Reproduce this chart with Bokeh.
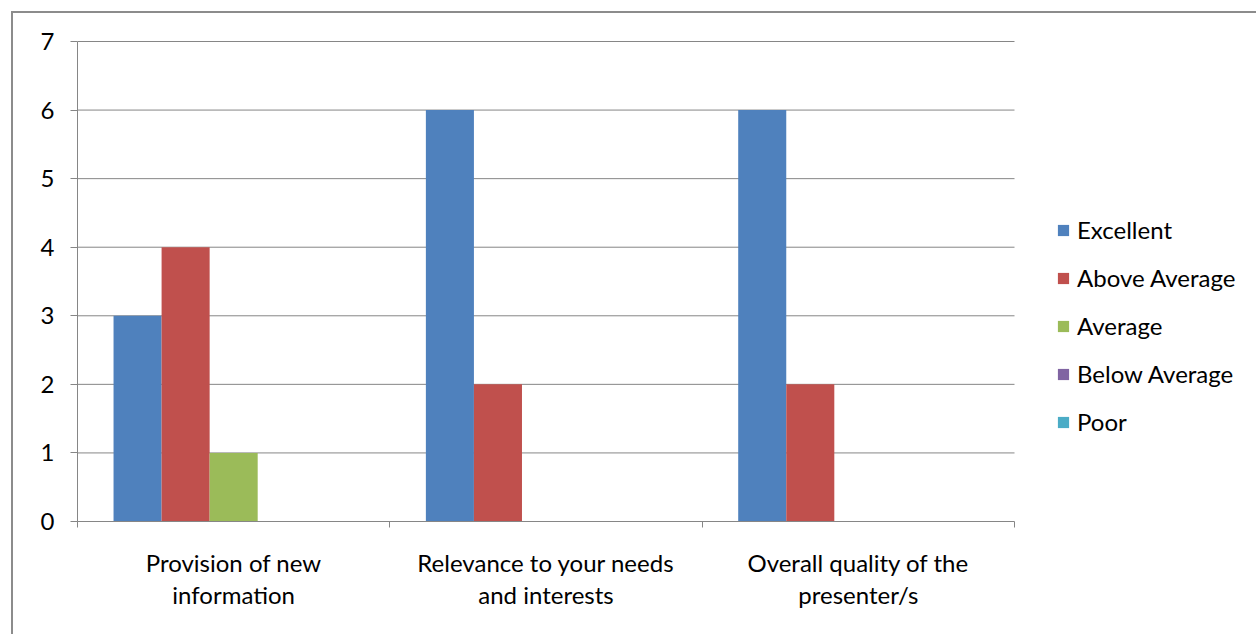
from bokeh.plotting import figure
from bokeh.models import (ColumnDataSource, FixedTicker, Legend, LegendItem, Range1d)
from bokeh.embed import file_html
from bokeh.resources import INLINE

categories = ["Provision of new\ninformation",
              "Relevance to your needs\nand interests",
              "Overall quality of the\npresenter/s"]
series_names = ["Excellent", "Above Average", "Average", "Below Average", "Poor"]
excellent = [3, 6, 6]
above_average = [4, 2, 2]
average = [1, 0, 0]
below_average = [0, 0, 0]
poor = [0, 0, 0]
series_values = [excellent, above_average, average, below_average, poor]
colors = ["#4F81BD", "#C0504D", "#9BBB59", "#8064A2", "#4BACC6"]
y_ticks = [0, 1, 2, 3, 4, 5, 6, 7]

FONT = "Lato"
FS = "24px"
AXIS_COLOR = "#868686"

# layout: plot area 937 px wide for the categories, legend area to its right
n = len(categories)
frame_w = 1181
x_end = n * frame_w / 937
y_top = y_ticks[-1] * (1 + 2 / 480)

p = figure(width=1245, height=623, output_backend="svg", toolbar_location=None,
           x_range=Range1d(0, x_end), y_range=Range1d(0, y_top),
           min_border_left=64, min_border_top=26, min_border_right=0,
           min_border_bottom=115)
p.margin = (11, 0, 0, 11)
p.styles = {"border-left": "2px solid #8c8c8c", "border-top": "2px solid #8c8c8c"}
p.outline_line_color = None
p.xgrid.grid_line_color = None
p.ygrid.grid_line_color = None

# horizontal gridlines over the category area only
p.segment(x0=[0] * (len(y_ticks) - 1), x1=[n] * (len(y_ticks) - 1),
          y0=y_ticks[1:], y1=y_ticks[1:], line_color=AXIS_COLOR, line_width=1)

gap = 36 / 312
bw = 48 / 312
renderers = []
for k, (name, vals, col) in enumerate(zip(series_names, series_values, colors)):
    xs = [i + gap + bw / 2 + k * bw for i in range(n)]
    src = ColumnDataSource(dict(x=xs, top=vals))
    r = p.vbar(x="x", top="top", bottom=0, width=bw, source=src,
               fill_color=col, line_color=None)
    renderers.append((name, r))

# x axis: boundary ticks (minor) and centred labels (major)
p.xaxis.bounds = (0, n)
p.xaxis.ticker = FixedTicker(ticks=[i + 0.5 for i in range(n)],
                             minor_ticks=list(range(n + 1)))
p.xaxis.major_label_overrides = {i + 0.5: c for i, c in enumerate(categories)}
p.xaxis.major_tick_line_color = None
p.xaxis.major_tick_out = 0
p.xaxis.major_tick_in = 0
p.xaxis.minor_tick_line_color = AXIS_COLOR
p.xaxis.minor_tick_out = 6
p.xaxis.minor_tick_in = 0
p.xaxis.axis_line_color = AXIS_COLOR
p.xaxis.major_label_standoff = 20
p.xaxis.major_label_text_font = FONT
p.xaxis.major_label_text_font_size = FS
p.xaxis.major_label_text_color = "black"
p.xaxis.major_label_text_line_height = 1.13

p.yaxis.bounds = (y_ticks[0], y_ticks[-1])
p.yaxis.ticker = FixedTicker(ticks=y_ticks, minor_ticks=[])
p.yaxis.axis_line_color = AXIS_COLOR
p.yaxis.major_tick_line_color = AXIS_COLOR
p.yaxis.major_tick_out = 7
p.yaxis.major_tick_in = 0
p.yaxis.minor_tick_line_color = None
p.yaxis.major_label_standoff = 16
p.yaxis.major_label_text_font = FONT
p.yaxis.major_label_text_font_size = FS
p.yaxis.major_label_text_color = "black"

legend = Legend(items=[LegendItem(label=nm, renderers=[r]) for nm, r in renderers],
                location=(979, 85), orientation="vertical",
                glyph_width=14, glyph_height=14, label_height=24, spacing=19,
                label_standoff=7, padding=0, margin=0,
                border_line_color=None, background_fill_alpha=0,
                label_text_font=FONT, label_text_font_size=FS,
                label_text_color="black")
p.add_layout(legend, "center")

open("out.html", "w").write(file_html(p, INLINE))
